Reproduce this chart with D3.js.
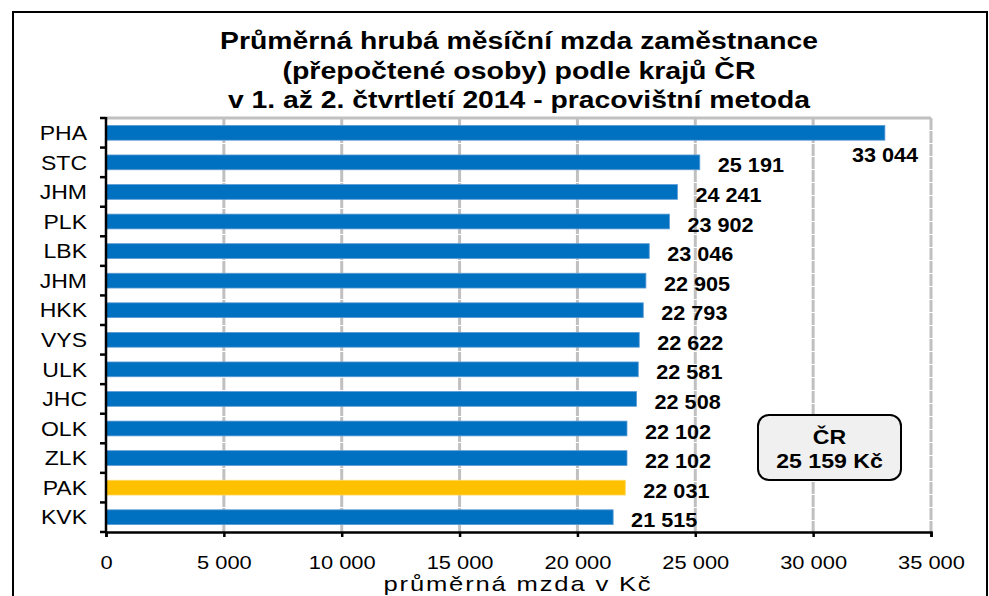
<!DOCTYPE html>
<html>
<head>
<meta charset="utf-8">
<script src="https://cdn.jsdelivr.net/npm/d3@7"></script>
<style>
  body { margin: 0; background: #fff; }
  svg { display: block; font-family: "Liberation Sans", Arial, sans-serif; }
</style>
</head>
<body>
<svg id="chart" width="989" height="596"></svg>
<script>
// data
const regions = ["PHA", "STC", "JHM", "PLK", "LBK", "JHM", "HKK", "VYS", "ULK", "JHC", "OLK", "ZLK", "PAK", "KVK"];
const wages = [33044, 25191, 24241, 23902, 23046, 22905, 22793, 22622, 22581, 22508, 22102, 22102, 22031, 21515];
const highlight = "PAK";
const xTicks = [0, 5000, 10000, 15000, 20000, 25000, 30000, 35000];
const titleLines = ["Průměrná hrubá měsíční mzda zaměstnance", "(přepočtené osoby) podle krajů ČR", "v 1. až 2. čtvrtletí 2014 - pracovištní metoda"];
const titleWidths = [598, 473, 582];
const avgLines = ["ČR", "25 159 Kč"];

const cz = d3.formatLocale({ decimal: ",", thousands: "\u00a0", grouping: [3], currency: ["", " Kč"] });
const fmt = cz.format(",d");

// the original picture is a little wider than the font
function stretch(sel, f) {
  sel.each(function() {
    const w = this.getComputedTextLength();
    d3.select(this).attr("textLength", w * f).attr("lengthAdjust", "spacingAndGlyphs");
  });
}

const svg = d3.select("#chart");
const margin = { top: 118, right: 58, bottom: 64, left: 106 };
const width = 989 - margin.left - margin.right;
const height = 596 - margin.top - margin.bottom;

// outer frame
svg.append("rect")
  .attr("x", 13).attr("y", 12).attr("width", 974).attr("height", 600)
  .attr("fill", "#fff").attr("stroke", "#000").attr("stroke-width", 2);

svg.append("g").selectAll("text")
  .data(titleLines)
  .enter().append("text")
  .attr("x", 519).attr("y", (d, i) => 49 + i * 29.5)
  .attr("text-anchor", "middle")
  .attr("font-size", 23).attr("font-weight", "bold")
  .attr("textLength", (d, i) => titleWidths[i])
  .attr("lengthAdjust", "spacingAndGlyphs")
  .text(d => d);

const x = d3.scaleLinear().domain([0, 35000]).range([0, width]);
const y = d3.scaleBand().domain(d3.range(regions.length)).range([0, height]).paddingInner(0.5).paddingOuter(0.25);

const g = svg.append("g").attr("transform", `translate(${margin.left},${margin.top})`);

// grid
g.append("line")
  .attr("x1", 0).attr("x2", x(35000)).attr("y1", 0).attr("y2", 0)
  .attr("stroke", "#c0c0c0").attr("stroke-width", 3);
g.selectAll(".grid")
  .data(xTicks.slice(1))
  .enter().append("line")
  .attr("class", "grid")
  .attr("x1", d => x(d)).attr("x2", d => x(d))
  .attr("y1", 0).attr("y2", height)
  .attr("stroke", "#c0c0c0").attr("stroke-width", 3)
  .attr("stroke-dasharray", "12,1");

// bars
g.selectAll(".bar")
  .data(wages)
  .enter().append("rect")
  .attr("class", "bar")
  .attr("x", 0)
  .attr("y", (d, i) => y(i))
  .attr("width", d => x(d))
  .attr("height", y.bandwidth())
  .attr("fill", (d, i) => regions[i] === highlight ? "#ffc000" : "#0070c0")
  .attr("stroke", (d, i) => regions[i] === highlight ? "#ffd966" : "#5b9bd5")
  .attr("stroke-width", 0.8);

// value labels
g.selectAll(".val")
  .data(wages)
  .enter().append("text")
  .attr("class", "val")
  .attr("x", (d, i) => i === 0 ? x(d) - 33 : x(d) + 18)
  .attr("y", (d, i) => i === 0 ? y(i) + y.bandwidth() / 2 + 29 : y(i) + y.bandwidth() / 2 + 10)
  .attr("font-size", 21).attr("font-weight", "bold")
  .text(d => fmt(d))
  .call(stretch, 1.03);

// y axis
const yAxis = d3.axisLeft(y).tickSize(0).tickPadding(19).tickFormat(i => regions[i]);
const ya = g.append("g").call(yAxis);
ya.select(".domain").remove();
ya.selectAll("text")
  .attr("font-size", 20).attr("fill", "#000").attr("dy", "0.36em")
  .attr("font-family", "Liberation Sans, Arial, sans-serif")
  .call(stretch, 1.15);
g.selectAll(".ytick")
  .data(d3.range(regions.length + 1))
  .enter().append("line")
  .attr("x1", -6).attr("x2", 0)
  .attr("y1", i => i * y.step()).attr("y2", i => i * y.step())
  .attr("stroke", "#000").attr("stroke-width", 2.5);
g.append("line")
  .attr("x1", 0).attr("x2", 0).attr("y1", -1).attr("y2", height + 1)
  .attr("stroke", "#000").attr("stroke-width", 2.5);

// x axis
const xAxis = d3.axisBottom(x).tickValues(xTicks).tickSize(5).tickPadding(0).tickFormat(d => fmt(d));
const xa = g.append("g").attr("transform", `translate(0,${height})`).call(xAxis);
xa.select(".domain").attr("stroke-width", 2.5);
xa.selectAll(".tick line").attr("stroke-width", 2.5);
xa.selectAll("text")
  .attr("y", 37).attr("dy", null)
  .attr("font-size", 19).attr("fill", "#000")
  .attr("font-family", "Liberation Sans, Arial, sans-serif")
  .call(stretch, 1.15);

svg.append("text")
  .attr("x", 518).attr("y", 591)
  .attr("text-anchor", "middle")
  .attr("font-size", 21)
  .attr("letter-spacing", 1.5)
  .attr("textLength", 269).attr("lengthAdjust", "spacingAndGlyphs")
  .text("průměrná mzda v Kč");

// average box
const box = svg.append("g").attr("transform", "translate(758,415)");
box.append("rect")
  .attr("width", 143).attr("height", 65).attr("rx", 11)
  .attr("fill", "#f0f0f0").attr("stroke", "#000").attr("stroke-width", 2);
box.selectAll("text")
  .data(avgLines)
  .enter().append("text")
  .attr("x", 71.5).attr("y", (d, i) => 29 + i * 24)
  .attr("text-anchor", "middle")
  .attr("font-size", 21).attr("font-weight", "bold")
  .text(d => d)
  .call(stretch, 1.1);
</script>
</body>
</html>
